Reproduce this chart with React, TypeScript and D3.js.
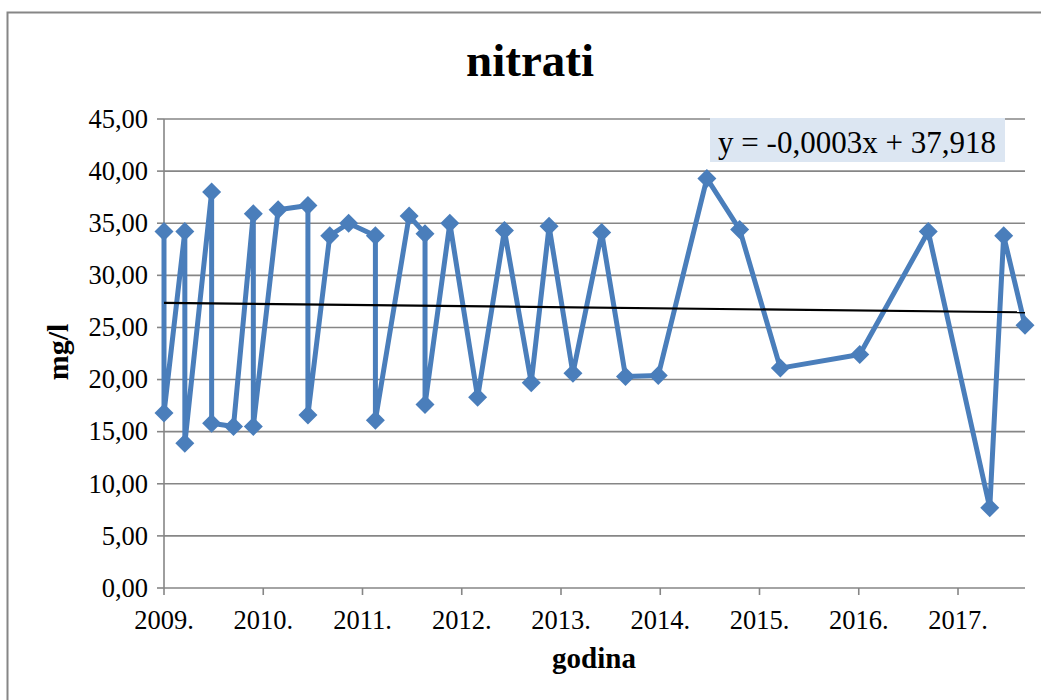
import React from "react";
import * as d3 from "d3";

// Sample times (fractional years) and nitrate values (mg/l)
const sampleTimes: number[] = [
  2009.0, 2009.0, 2009.21, 2009.21, 2009.48, 2009.48, 2009.7, 2009.9, 2009.9,
  2010.15, 2010.45, 2010.45, 2010.67, 2010.86, 2011.13, 2011.13, 2011.47,
  2011.63, 2011.63, 2011.88, 2012.16, 2012.43, 2012.7, 2012.88, 2013.12,
  2013.41, 2013.65, 2013.98, 2014.47, 2014.8, 2015.21, 2016.01, 2016.7,
  2017.32, 2017.46, 2017.675,
];
const nitrateValues: number[] = [
  34.2, 16.8, 34.2, 13.9, 38.0, 15.8, 15.5, 35.9, 15.5, 36.3, 36.7, 16.6,
  33.8, 35.0, 33.8, 16.1, 35.7, 34.0, 17.6, 35.0, 18.3, 34.3, 19.7, 34.7,
  20.6, 34.1, 20.3, 20.4, 39.3, 34.4, 21.1, 22.4, 34.2, 7.7, 33.8, 25.2,
];
const yTicks: number[] = [0, 5, 10, 15, 20, 25, 30, 35, 40, 45];
const xTicks: number[] = [2009, 2010, 2011, 2012, 2013, 2014, 2015, 2016, 2017];
const trendTimes: number[] = [2009.0, 2017.675];
const trendValues: number[] = [27.35, 26.45];
const titleText = "nitrati";
const yAxisTitle = "mg/l";
const xAxisTitle = "godina";
const equationText = "y = -0,0003x + 37,918";

const FONT = "'Liberation Serif', 'Times New Roman', serif";
const GRID = "#868686";
const BLUE = "#4a7ebb";

export default function App() {
  const left = 164;
  const right = 1025;
  const top = 119;
  const bottom = 588;

  const x = d3.scaleLinear().domain([2009, 2017.675]).range([left, right]);
  const y = d3.scaleLinear().domain([0, 45]).range([bottom, top]);

  const pts = sampleTimes.map((t, i) => [x(t), y(nitrateValues[i])] as [number, number]);
  const line = d3.line<[number, number]>()(pts) || "";
  const trend = d3.line<[number, number]>()(
    trendTimes.map((t, i) => [x(t), y(trendValues[i])] as [number, number])
  ) || "";

  const fmt = (v: number) => v.toFixed(2).replace(".", ",");
  const d = 9.5;

  return (
    <svg
      width={1041}
      height={700}
      style={{ position: "absolute", left: 0, top: 0, background: "#fff" }}
    >
      <rect x={0} y={0} width={1041} height={700} fill="#fff" />
      <rect x={7.5} y={12.5} width={1060} height={720} fill="none" stroke={GRID} strokeWidth={2} />

      {/* gridlines */}
      {yTicks.map((v) => (
        <line key={"g" + v} x1={left} x2={right} y1={y(v)} y2={y(v)} stroke={GRID} strokeWidth={1.6} />
      ))}
      {/* y axis */}
      <line x1={left} x2={left} y1={top} y2={bottom} stroke={GRID} strokeWidth={1.6} />
      {yTicks.map((v) => (
        <line key={"yt" + v} x1={left - 7} x2={left} y1={y(v)} y2={y(v)} stroke={GRID} strokeWidth={1.6} />
      ))}
      {yTicks.map((v) => (
        <text key={"yl" + v} x={left - 16} y={y(v)} dy="0.33em" textAnchor="end" fontFamily={FONT} fontSize={26.5} fill="#000">
          {fmt(v)}
        </text>
      ))}
      {/* x axis ticks */}
      {xTicks.map((v) => (
        <line key={"xt" + v} x1={x(v)} x2={x(v)} y1={bottom} y2={bottom + 7} stroke={GRID} strokeWidth={1.6} />
      ))}
      {xTicks.map((v) => (
        <text key={"xl" + v} x={x(v)} y={629} textAnchor="middle" fontFamily={FONT} fontSize={26.5} fill="#000">
          {v + "."}
        </text>
      ))}

      {/* series */}
      <path d={line} fill="none" stroke={BLUE} strokeWidth={5} strokeLinejoin="round" />
      {pts.map(([px, py], i) => (
        <path key={"m" + i} d={`M${px},${py - d}L${px + d},${py}L${px},${py + d}L${px - d},${py}Z`} fill={BLUE} />
      ))}

      {/* trendline */}
      <path d={trend} fill="none" stroke="#000" strokeWidth={2.2} />

      {/* equation label */}
      <rect x={710} y={118} width={295} height={44} fill="#dce6f2" />
      <text x={857} y={153} textAnchor="middle" fontFamily={FONT} fontSize={31} fill="#000">
        {equationText}
      </text>

      {/* titles */}
      <text x={530} y={76} textAnchor="middle" fontFamily={FONT} fontSize={47} fontWeight="bold" fill="#000">
        {titleText}
      </text>
      <text
        transform={`translate(68,352) rotate(-90)`}
        textAnchor="middle"
        fontFamily={FONT}
        fontSize={30}
        fontWeight="bold"
        fill="#000"
      >
        {yAxisTitle}
      </text>
      <text x={594} y={668} textAnchor="middle" fontFamily={FONT} fontSize={29} fontWeight="bold" fill="#000">
        {xAxisTitle}
      </text>
    </svg>
  );
}
